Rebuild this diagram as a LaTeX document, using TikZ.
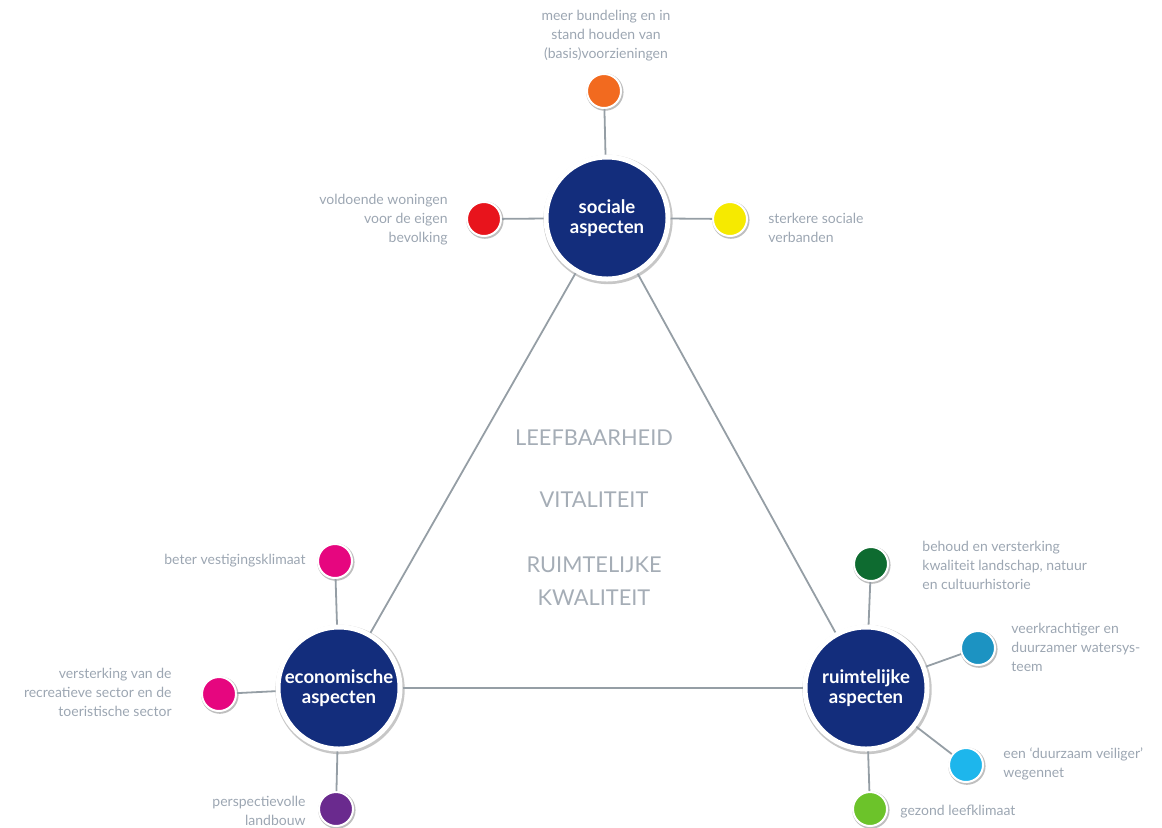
\documentclass[tikz,border=0pt]{standalone}
\usepackage{fontspec}
\setmainfont{Lato}
\usepackage{xcolor}
\usepackage{tikz}
\usetikzlibrary{shadows}

\definecolor{navy}{HTML}{132D7C}
\definecolor{linegray}{HTML}{959EA5}
\definecolor{textgray}{HTML}{9CA6B2}
\definecolor{kerngray}{HTML}{A5ADB6}
\definecolor{oranje}{HTML}{F26A1F}
\definecolor{rood}{HTML}{E8141C}
\definecolor{geel}{HTML}{F6EA00}
\definecolor{roze}{HTML}{E6067F}
\definecolor{paars}{HTML}{6A2A8E}
\definecolor{donkergroen}{HTML}{0E6B30}
\definecolor{petrol}{HTML}{1C93C2}
\definecolor{lichtblauw}{HTML}{1DB6EC}
\definecolor{lichtgroen}{HTML}{6CC32A}

\tikzset{
	aspect/.style={circle, fill=navy, draw=white, line width=2.5pt, minimum size=61pt, inner sep=0pt,
		text=white, align=center, font=\bfseries\fontsize{9.3}{10.3}\selectfont,
		drop shadow={shadow xshift=0.5pt, shadow yshift=-0.7pt, shadow scale=1.06, fill=black, opacity=0.22}},
	dot/.style={circle, fill=#1, draw=white, line width=1pt, minimum size=17pt, inner sep=0pt,
		drop shadow={shadow xshift=0.4pt, shadow yshift=-0.5pt, shadow scale=1.1, fill=black, opacity=0.25}},
	link/.style={draw=linegray, line width=0.9pt},
	info/.style={text=textgray, inner sep=0pt, font=\fontsize{7}{9.5}\selectfont},
	kern/.style={text=kerngray, inner sep=0pt, align=center, font=\fontsize{10.9}{16.5}\selectfont}
}

\begin{document}
\begin{tikzpicture}[x=0.5pt,y=-0.5pt]

	\useasboundingbox (0,0) rectangle (1162,827);

	\node [aspect] (sociaal) at (607,218) {sociale\\aspecten};

	\node [aspect] (economisch) at (339,688) {economische\\aspecten};

	\node [aspect] (ruimtelijk) at (866,688) {ruimtelijke\\aspecten};

	\draw [link] (sociaal) -- (economisch);
	\draw [link] (sociaal) -- (ruimtelijk);
	\draw [link] (economisch) -- (ruimtelijk);

	\node [kern] (leefbaarheid) at (594,438) {LEEFBAARHEID};

	\node [kern] (vitaliteit) at (594,500) {VITALITEIT};

	\node [kern] (kwaliteit) at (594,581) {RUIMTELIJKE\\KWALITEIT};

	\node [dot=oranje] (bundeling) at (604,91) {};
	\node [dot=rood] (woningen) at (484,219) {};
	\node [dot=geel] (verbanden) at (730,219) {};

	\draw [link] (sociaal) -- (bundeling);
	\draw [link] (sociaal) -- (woningen);
	\draw [link] (sociaal) -- (verbanden);

	\node [info, align=center] (tbundeling) at (606,36) {meer bundeling en in\\stand houden van\\(basis)voorzieningen};

	\node [info, align=right, anchor=east] (twoningen) at (448,220) {voldoende woningen\\voor de eigen\\bevolking};

	\node [info, align=left, anchor=west] (tverbanden) at (768,228) {sterkere sociale\\verbanden};

	\node [dot=roze] (vestiging) at (335,561) {};
	\node [dot=roze] (recreatie) at (219,694) {};
	\node [dot=paars] (landbouw) at (336,809) {};

	\draw [link] (economisch) -- (vestiging);
	\draw [link] (economisch) -- (recreatie);
	\draw [link] (economisch) -- (landbouw);

	\node [info, anchor=east] (tvestiging) at (306,561) {beter vestigingsklimaat};

	\node [info, align=right, anchor=east] (trecreatie) at (172,692) {versterking van de\\recreatieve sector en de\\toeristische sector};

	\node [info, align=right, anchor=east] (tlandbouw) at (306,811) {perspectievolle\\landbouw};

	\node [dot=donkergroen] (landschap) at (871,564) {};
	\node [dot=petrol] (water) at (978,648) {};
	\node [dot=lichtblauw] (wegennet) at (966,765) {};
	\node [dot=lichtgroen] (leefklimaat) at (870,809) {};

	\draw [link] (ruimtelijk) -- (landschap);
	\draw [link] (ruimtelijk) -- (water);
	\draw [link] (ruimtelijk) -- (wegennet);
	\draw [link] (ruimtelijk) -- (leefklimaat);

	\node [info, align=left, anchor=west] (tlandschap) at (922,565) {behoud en versterking\\kwaliteit landschap, natuur\\en cultuurhistorie};

	\node [info, align=left, anchor=west] (twater) at (1011,647) {veerkrachtiger en\\duurzamer watersys-\\teem};

	\node [info, align=left, anchor=west] (twegennet) at (1003,764) {een `duurzaam veiliger'\\wegennet};

	\node [info, anchor=west] (tleefklimaat) at (900,812) {gezond leefklimaat};

\end{tikzpicture}
\end{document}
